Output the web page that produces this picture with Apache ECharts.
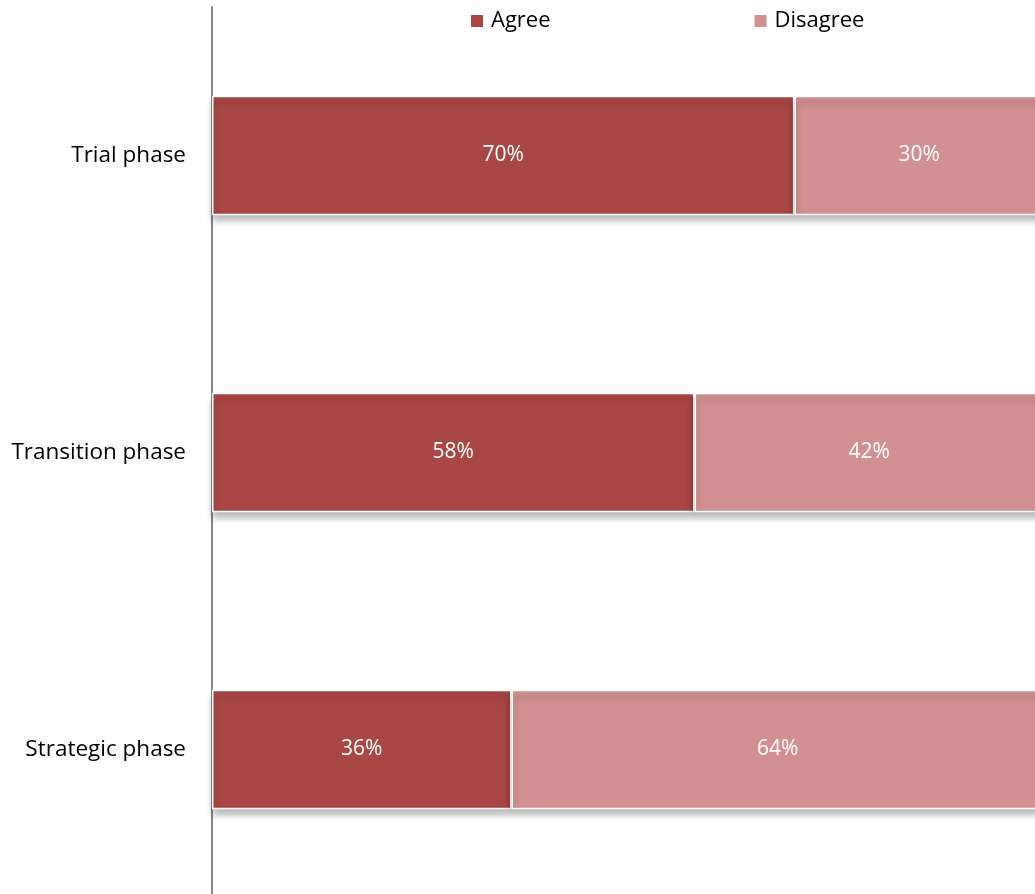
<!DOCTYPE html>
<html><head><meta charset="utf-8">
<script src="https://cdn.jsdelivr.net/npm/echarts@6/dist/echarts.min.js"></script>
<style>html,body{margin:0;padding:0;background:#fff;overflow:hidden}#c{width:1044px;height:900px}</style>
</head><body><div id="c"></div>
<script>
const categories = ['Trial phase', 'Transition phase', 'Strategic phase'];
const agree = [70, 58, 36];
const disagree = [30, 42, 64];
const FONT = '"Open Sans", "Liberation Sans", sans-serif';
const chart = echarts.init(document.getElementById('c'));
const common = {
  type: 'bar', stack: 'total', barWidth: '40.2%',
  label: { show: true, position: 'inside', color: '#fff', fontFamily: FONT, fontSize: 21, formatter: p => p.value + '%' }
};
chart.setOption({
  animation: false,
  textStyle: { fontFamily: FONT },
  legend: {
    top: 5, left: 464, itemWidth: 14, itemHeight: 14, itemGap: 202, icon: 'rect',
    textStyle: { fontFamily: FONT, fontSize: 22, color: '#000', padding: [0, 0, 0, 2] },
    data: ['Agree', 'Disagree']
  },
  grid: { left: 212, right: 0, top: 7, bottom: 2, containLabel: false },
  xAxis: { type: 'value', min: 0, max: 100, show: false },
  yAxis: {
    type: 'category', data: categories, inverse: true,
    axisLine: { show: true, lineStyle: { color: '#868686', width: 2 } },
    axisTick: { show: false },
    axisLabel: { fontFamily: FONT, fontSize: 22.5, color: '#000', margin: 26 }
  },
  series: [
    Object.assign({}, common, { name: 'Agree', data: agree,
      itemStyle: { color: '#A84744', borderColor: '#fff', borderWidth: 1.5, shadowColor: 'rgba(0,0,0,0.3)', shadowBlur: 7, shadowOffsetY: 6 } }),
    Object.assign({}, common, { name: 'Disagree', data: disagree,
      itemStyle: { color: '#D29190', borderColor: '#fff', borderWidth: 1.5, shadowColor: 'rgba(0,0,0,0.3)', shadowBlur: 7, shadowOffsetY: 6 } })
  ]
});
</script></body></html>
